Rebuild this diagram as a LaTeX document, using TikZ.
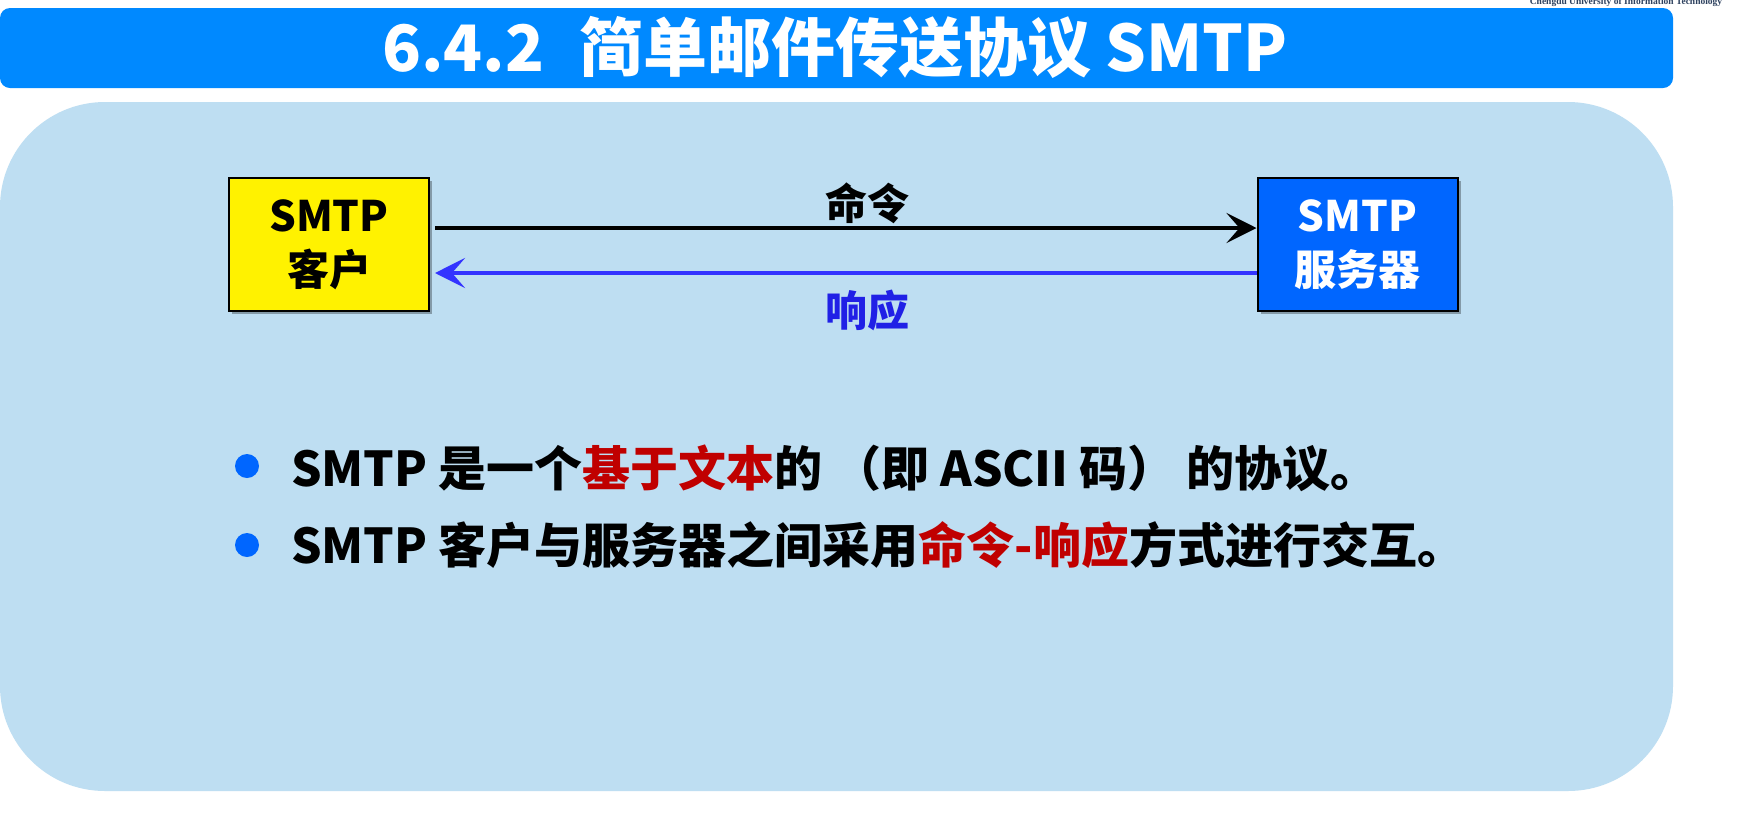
\documentclass[tikz,border=0pt]{standalone}
\usepackage{fontspec}
\setmainfont{Noto Sans CJK SC}
\newfontfamily\crestfont{Liberation Serif}
\usetikzlibrary{arrows.meta,shadows}
\definecolor{titleblue}{RGB}{0,137,255}
\definecolor{panelblue}{RGB}{190,222,242}
\definecolor{serverblue}{RGB}{0,102,255}
\definecolor{respblue}{RGB}{51,51,255}
\definecolor{resptext}{RGB}{32,32,230}
\definecolor{hlred}{RGB}{192,0,0}
\definecolor{dotblue}{RGB}{0,102,255}
\definecolor{crestnavy}{RGB}{45,65,95}
\newcommand{\hl}[1]{\textcolor{hlred}{#1}}
\begin{document}
\begin{tikzpicture}[x=1pt,y=-1pt,
  box/.style={draw=black,line width=2pt,minimum width=200pt,minimum height=133pt,
    align=center,inner sep=0pt,font=\bfseries\fontsize{42}{54}\selectfont,
    drop shadow={shadow xshift=3pt,shadow yshift=-3pt,opacity=0.3,fill=black}},
  link/.style={line width=4.5pt,-{Stealth[length=30pt,width=30pt,inset=13pt]}},
  lbl/.style={inner sep=0pt,font=\bfseries\fontsize{42}{42}\selectfont},
  item/.style={anchor=west,inner sep=0pt,font=\bfseries\fontsize{48}{48}\selectfont},
  dot/.style={circle,fill=dotblue,inner sep=0pt,minimum size=24pt}]
\useasboundingbox (0,0) rectangle (1745,812);
% page background
\fill[white] (0,0) rectangle (1745,812);
% institution line at the top edge
\node[anchor=base,text=crestnavy,inner sep=0pt,
  font=\crestfont\bfseries\fontsize{9.5}{10}\selectfont] (crest) at (1626,4)
  {Chengdu University of Information Technology};
% title bar
\fill[titleblue,rounded corners=10pt] (0,8) rectangle (1673,88);
\node[text=white,inner sep=0pt,font=\bfseries\fontsize{64}{64}\selectfont] (title) at (835,47)
  {6.4.2\hspace{0.55em}简单邮件传送协议 SMTP};
% content panel
\fill[panelblue,rounded corners=105pt] (0,102) rectangle (1673,791);
% client and server
\node[box,fill=yellow] (client) at (329,244.5) {SMTP\\客户};
\node[box,fill=serverblue,text=white] (server) at (1357.5,244.5) {SMTP\\服务器};
% command / response exchange
\draw[link,black,shorten <=5pt] ([yshift=16.5pt]client.east) -- ([yshift=16.5pt]server.west);
\draw[link,respblue,shorten >=5pt] ([yshift=-28.5pt]server.west) -- ([yshift=-28.5pt]client.east);
\node[lbl] (cmd) at (867,203) {命令};
\node[lbl,text=resptext] (resp) at (867,310) {响应};
% bullet points
\node[dot] (dot1) at (247,466) {};
\node[dot] (dot2) at (247,545) {};
\node[item] (item1) at (291,468) {SMTP 是一个\hl{基于文本}的 （即 ASCII 码） 的协议。};
\node[item] (item2) at (291,545) {SMTP 客户与服务器之间采用\hl{命令-响应}方式进行交互。};
\end{tikzpicture}
\end{document}
